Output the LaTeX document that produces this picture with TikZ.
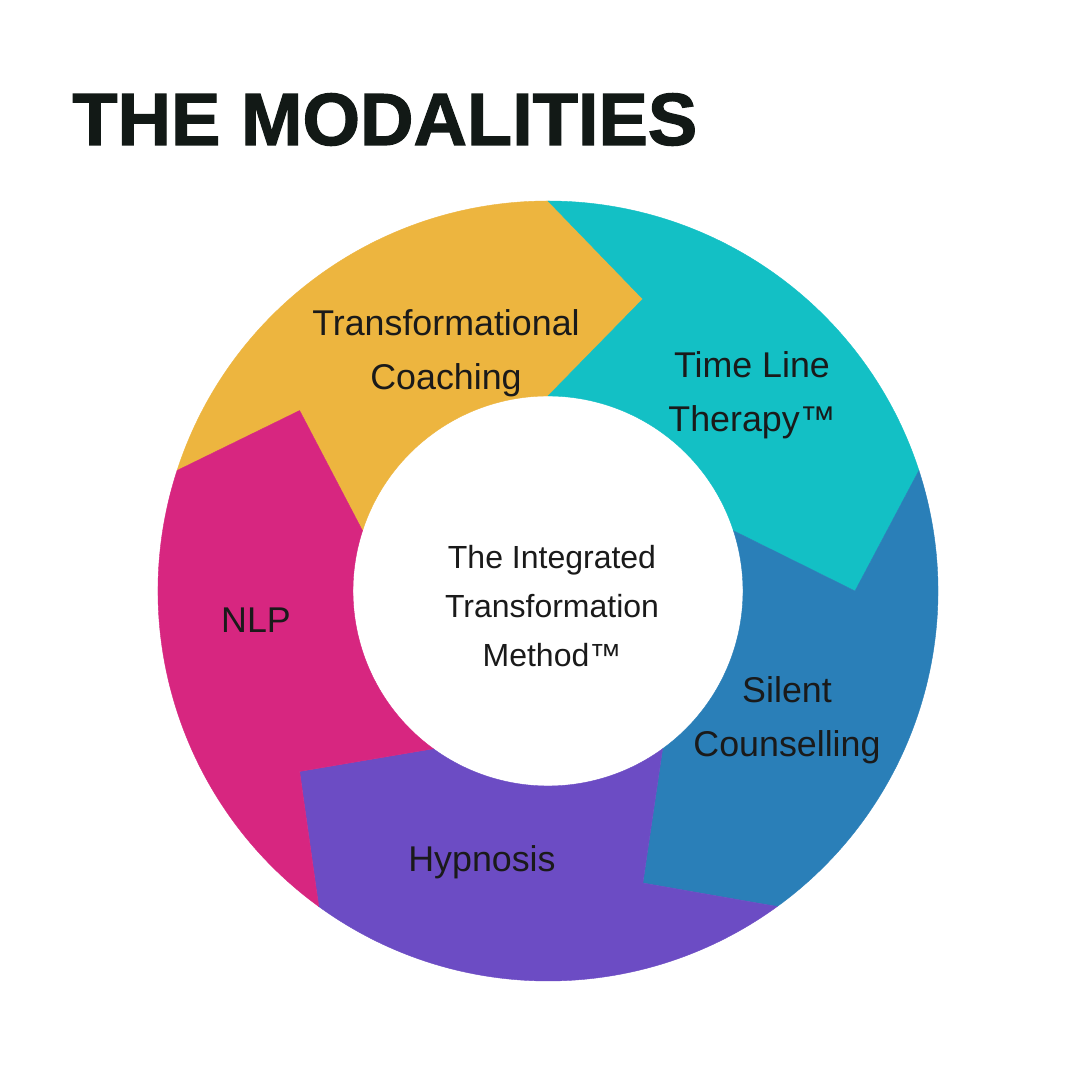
\documentclass[tikz,border=0pt]{standalone}
\usepackage{fontspec}
\setmainfont{Liberation Sans}
\newfontfamily\headingfont{Liberation Sans}[BoldFeatures={FakeBold=1.6}]
\usepackage{xcolor}
\definecolor{coachyellow}{HTML}{EDB53F}
\definecolor{timeteal}{HTML}{13C0C5}
\definecolor{silentblue}{HTML}{2A7FB8}
\definecolor{hypnopurple}{HTML}{6C4CC4}
\definecolor{nlppink}{HTML}{D72680}
\definecolor{labeltext}{HTML}{1A1A1A}
\definecolor{titletext}{HTML}{121916}
\tikzset{
	segment/.style={
		fill=#1,
		draw=#1,
		line width=.2pt
	},
	modality/.style={
		align=center,
		inner sep=0pt,
		text=labeltext,
		font=\fontsize{17.9}{27}\selectfont
	},
	hub/.style={
		align=center,
		inner sep=0pt,
		text=labeltext,
		font=\fontsize{16}{24.4}\selectfont
	},
	heading/.style={
		inner sep=0pt,
		text=titletext,
		font=\fontsize{37}{37}\selectfont\headingfont\bfseries
	}
}
\begin{document}
\begin{tikzpicture}[x=.5pt, y=.5pt]
	\fill[white] (-548,-489) rectangle (532,591);
	\useasboundingbox (-548,-489) rectangle (532,591);

	\foreach \s/\c in {162/coachyellow, 90/timeteal, 18/silentblue, -54/hypnopurple, -126/nlppink}
		\path[segment=\c] (\s:390) arc[start angle=\s, end angle=\s-72, radius=390] -- ({\s-90}:307) -- ({\s-72}:195) arc[start angle=\s-72, end angle=\s, radius=195] -- ({\s-18}:307) -- cycle;

	\node[heading, anchor=base west] (title) at (-476,446) {THE MODALITIES};
	\node[modality] (coaching) at (-102,238) {Transformational\\Coaching};
	\node[modality] (timeline) at (204,196) {Time Line\\Therapy™};
	\node[modality] (silent) at (239,-129) {Silent\\Counselling};
	\node[modality] (hypnosis) at (-66,-271) {Hypnosis};
	\node[modality] (nlp) at (-292,-29) {NLP};
	\node[hub] (method) at (4,-15) {The Integrated\\Transformation\\Method™};
\end{tikzpicture}
\end{document}
